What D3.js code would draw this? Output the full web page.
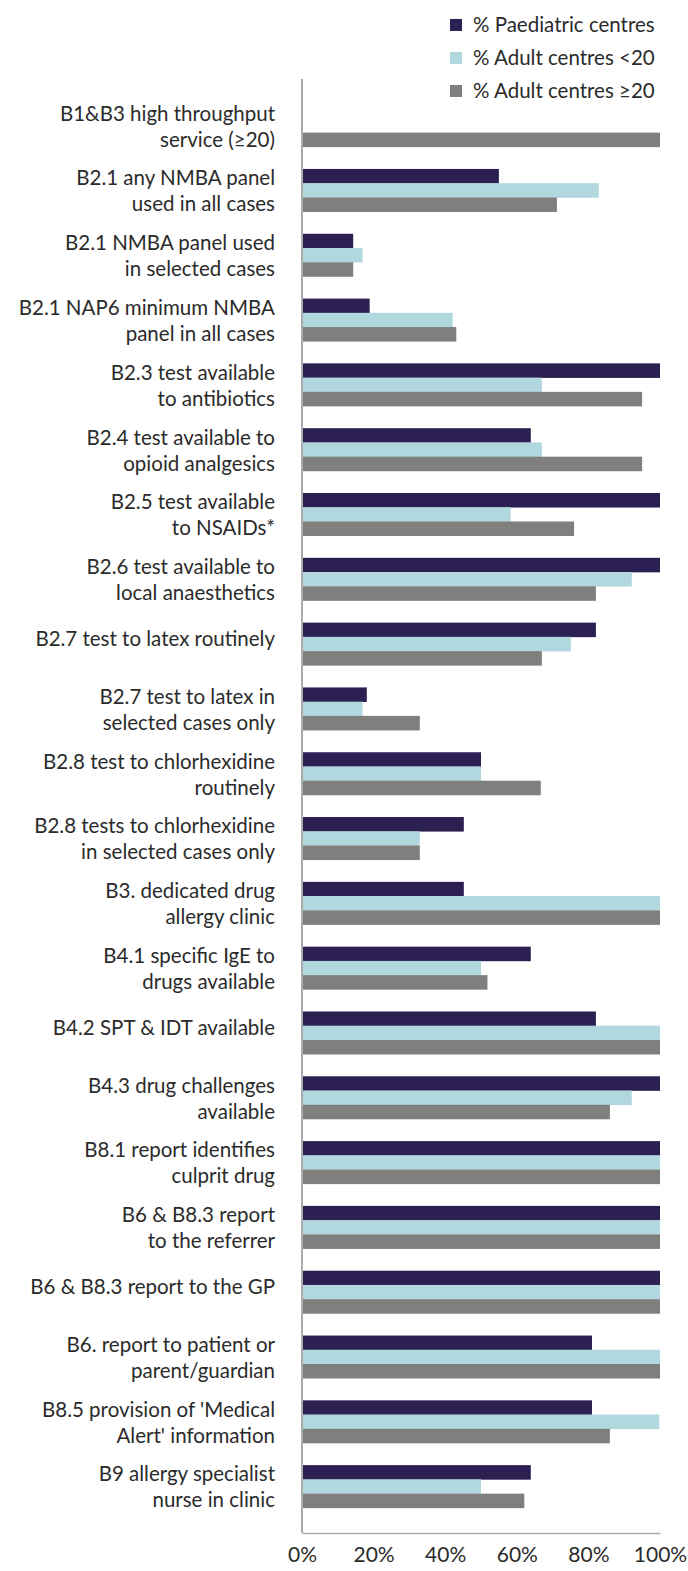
<!DOCTYPE html>
<html>
<head>
<meta charset="utf-8">
<script src="https://cdn.jsdelivr.net/npm/d3@7"></script>
<style>
  body { margin: 0; background: #fff; }
  text { font-family: "Lato", "Noto Sans", sans-serif; fill: #2b2b2b; }
</style>
</head>
<body>
<div id="chart"></div>
<script>
const categories = [
  'B1&B3 high throughput|service (≥20)',
  'B2.1 any NMBA panel|used in all cases',
  'B2.1 NMBA panel used|in selected cases',
  'B2.1 NAP6 minimum NMBA|panel in all cases',
  'B2.3 test available|to antibiotics',
  'B2.4 test available to|opioid analgesics',
  'B2.5 test available|to NSAIDs*',
  'B2.6 test available to|local anaesthetics',
  'B2.7 test to latex routinely',
  'B2.7 test to latex in|selected cases only',
  'B2.8 test to chlorhexidine|routinely',
  'B2.8 tests to chlorhexidine|in selected cases only',
  'B3. dedicated drug|allergy clinic',
  'B4.1 specific IgE to|drugs available',
  'B4.2 SPT & IDT available',
  'B4.3 drug challenges|available',
  'B8.1 report identifies|culprit drug',
  'B6 & B8.3 report|to the referrer',
  'B6 & B8.3 report to the GP',
  'B6. report to patient or|parent/guardian',
  "B8.5 provision of 'Medical|Alert' information",
  'B9 allergy specialist|nurse in clinic'
];

const seriesNames = ['% Paediatric centres', '% Adult centres <20', '% Adult centres ≥20'];
const seriesColors = ['#2c1f52', '#b1d7df', '#7f7f7e'];

const paediatric = [0, 55, 14.3, 18.9, 100, 63.9, 100, 100, 82.1, 18.1, 50, 45.2, 45.2, 63.9, 82.1, 100, 100, 100, 100, 81, 81, 63.9];
const adultUnder20 = [0, 82.9, 16.9, 42.1, 67, 67, 58.3, 92.1, 75.1, 16.9, 50, 32.9, 100, 50, 100, 92.1, 100, 100, 100, 100, 99.8, 50];
const adultOver20 = [100, 71.2, 14.3, 43.1, 95, 95, 76, 82.1, 67, 32.9, 66.7, 32.9, 100, 51.8, 100, 86, 100, 100, 100, 100, 86, 62.1];

const tickValues = [0, 20, 40, 60, 80, 100];

const width = 688, height = 1571;
const x0 = 302, x1 = 660, yTop = 79, yBottom = 1533;

const svg = d3.select('#chart')
    .append('svg')
    .attr('width', width)
    .attr('height', height);

let scaleX = d3.scaleLinear().domain([0, 100]).range([x0, x1]);
let scaleY = d3.scaleBand().domain(categories).range([yTop, yBottom])
    .paddingInner(0.341).paddingOuter(0.388);
let scaleSub = d3.scaleBand().domain(d3.range(3)).range([0, scaleY.bandwidth()]);

let rows = categories.map((c, i) => ({
    cat: c,
    vals: [paediatric[i], adultUnder20[i], adultOver20[i]]
}));

// bars
let groups = svg.selectAll('.grp')
    .data(rows)
    .enter()
    .append('g')
    .attr('class', 'grp')
    .attr('transform', d => 'translate(0,' + scaleY(d.cat) + ')');

groups.selectAll('rect')
    .data(d => d.vals.map((v, k) => ({v: v, k: k})))
    .enter()
    .append('rect')
    .attr('x', scaleX(0))
    .attr('y', d => scaleSub(d.k))
    .attr('width', d => scaleX(d.v) - scaleX(0))
    .attr('height', scaleSub.bandwidth() + 0.3)
    .style('fill', d => seriesColors[d.k]);

// axes lines
svg.append('line')
    .attr('x1', x0).attr('x2', x0)
    .attr('y1', yTop).attr('y2', yBottom)
    .style('stroke', '#ababab').style('stroke-width', 2);

let xAxis = d3.axisBottom(scaleX).tickValues(tickValues).tickFormat(d => d + '%').tickSize(0).tickPadding(14);
let xAxisGroup = svg.append('g')
    .attr('transform', 'translate(0,' + yBottom + ')')
    .call(xAxis);
xAxisGroup.select('.domain').style('stroke', '#ababab').style('stroke-width', 1.5);
xAxisGroup.selectAll('text')
    .style('font-family', '"Lato", "Noto Sans", sans-serif')
    .style('font-size', '21px')
    .style('fill', '#2b2b2b');

// category labels
let labels = svg.selectAll('.lbl')
    .data(categories)
    .enter()
    .append('text')
    .attr('class', 'lbl')
    .attr('text-anchor', 'end')
    .style('font-size', '20.5px');

labels.each(function(d) {
    let lines = d.split('|');
    let cy = scaleY(d) + scaleY.bandwidth() / 2;
    let t = d3.select(this);
    if (lines.length == 1) {
        t.append('tspan').attr('x', 275).attr('y', cy + 2).text(lines[0]);
    } else {
        t.append('tspan').attr('x', 275).attr('y', cy - 5).text(lines[0]);
        t.append('tspan').attr('x', 275).attr('y', cy + 21).text(lines[1]);
    }
});

// legend
let legend = svg.selectAll('.leg')
    .data(seriesNames)
    .enter()
    .append('g')
    .attr('class', 'leg')
    .attr('transform', (d, i) => 'translate(450,' + (25 + i * 33) + ')');

legend.append('rect')
    .attr('x', 0).attr('y', -6)
    .attr('width', 12).attr('height', 12)
    .style('fill', (d, i) => seriesColors[i]);

legend.append('text')
    .attr('x', 23).attr('y', 7)
    .style('font-size', '20.5px')
    .text(d => d);
</script>
</body>
</html>
